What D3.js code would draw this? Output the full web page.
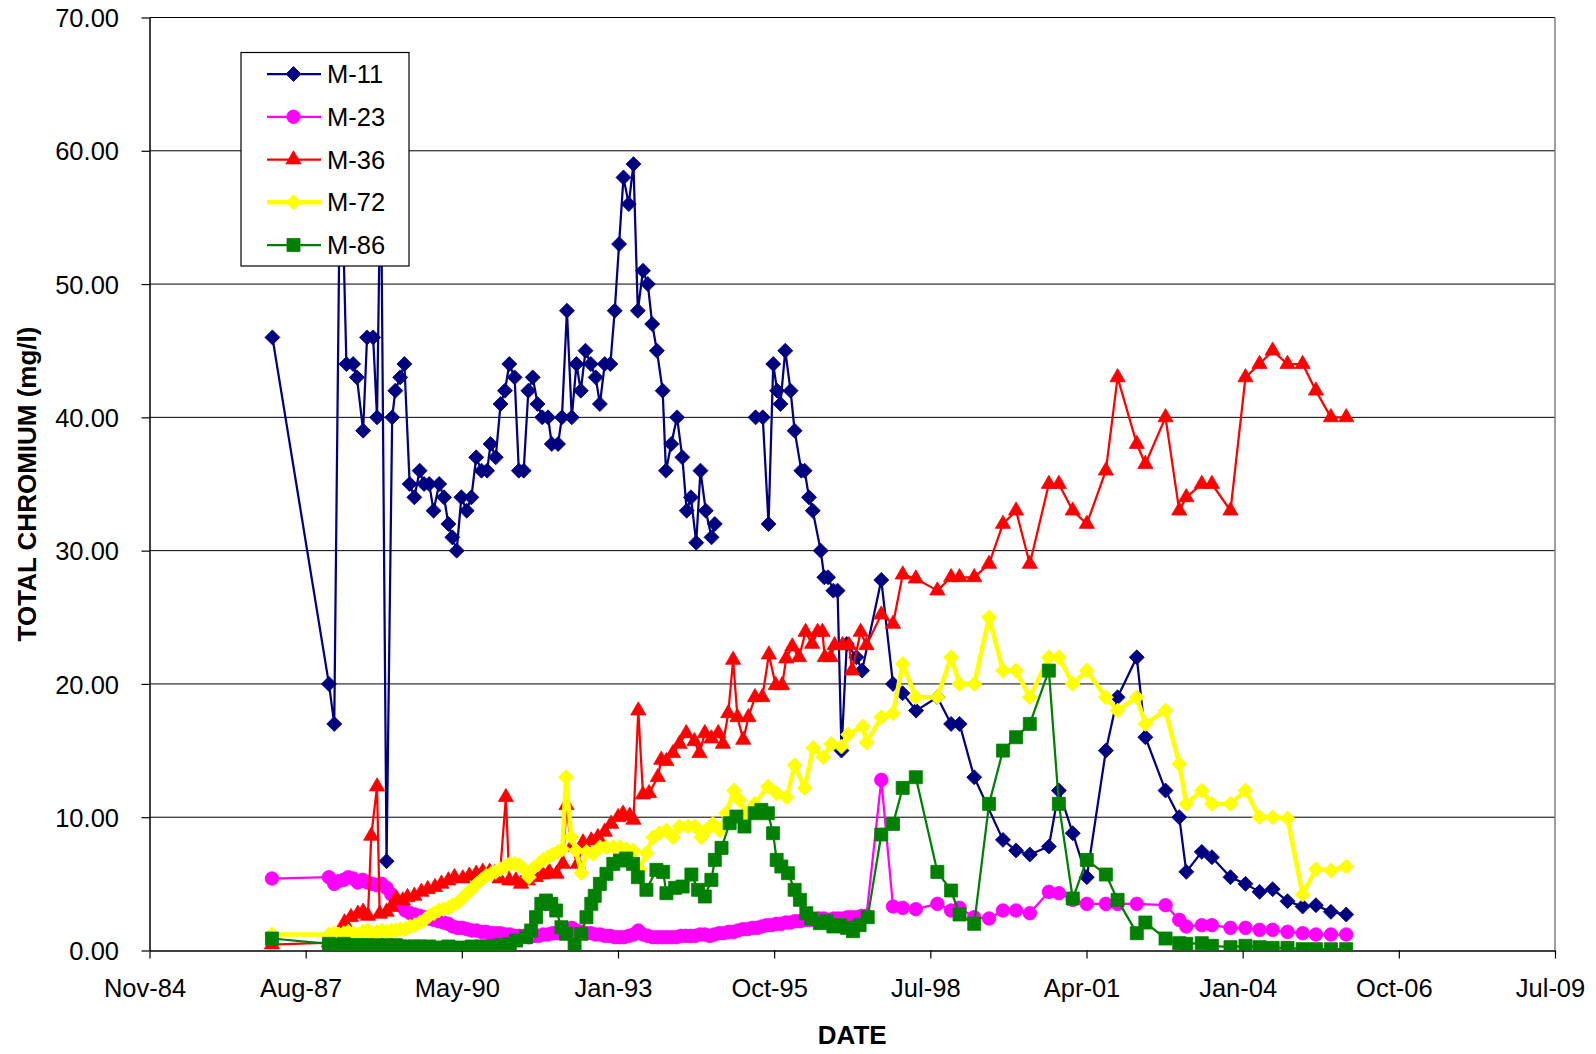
<!DOCTYPE html>
<html>
<head>
<meta charset="utf-8">
<script src="https://cdn.jsdelivr.net/npm/d3@7"></script>
<style>
  body { margin: 0; background: #fff; }
  text { font-family: "Liberation Sans", Arial, sans-serif; fill: #000; }
</style>
</head>
<body>
<div class="chart"></div>
<script>
// ---- data (date, total chromium mg/l) ----
var m11Data = [
  ["1987-01-10",46],["1988-01-07",20],["1988-02-10",17],["1988-03-21",62],["1988-04-28",44],
  ["1988-06-10",44],["1988-07-04",43],["1988-08-13",39],["1988-09-07",46],["1988-10-16",46],
  ["1988-11-10",40],["1988-12-04",60],["1989-01-10",6.7],["1989-02-15",40],["1989-03-07",42],
  ["1989-04-07",43],["1989-05-04",44],["1989-06-07",35],["1989-07-07",34],["1989-08-10",36],
  ["1989-09-07",35],["1989-10-10",35],["1989-11-07",33],["1989-12-13",35],["1990-01-13",34],
  ["1990-02-10",32],["1990-03-07",31],["1990-04-04",30],["1990-05-04",34],["1990-06-07",33],
  ["1990-07-07",34],["1990-08-07",37],["1990-09-10",36],["1990-10-16",36],["1990-11-07",38],
  ["1990-12-10",37],["1991-01-10",41],["1991-02-07",42],["1991-03-07",44],["1991-04-10",43],
  ["1991-05-07",36],["1991-06-07",36],["1991-07-07",42],["1991-08-04",43],["1991-09-04",41],
  ["1991-10-04",40],["1991-11-10",40],["1991-12-04",38],["1992-01-13",38],["1992-02-07",40],
  ["1992-03-10",48],["1992-04-10",40],["1992-05-10",44],["1992-06-07",42],["1992-07-07",45],
  ["1992-08-10",44],["1992-09-10",43],["1992-10-07",41],["1992-11-07",44],["1992-12-13",44],
  ["1993-01-10",48],["1993-02-07",53],["1993-03-07",58],["1993-04-10",56],["1993-05-10",59],
  ["1993-06-07",48],["1993-07-10",51],["1993-08-10",50],["1993-09-07",47],["1993-10-07",45],
  ["1993-11-13",42],["1993-12-04",36],["1994-01-07",38],["1994-02-13",40],["1994-03-19",37],
  ["1994-04-16",33],["1994-05-13",34],["1994-06-16",30.6],["1994-07-13",36],["1994-08-16",33],
  ["1994-09-22",31],["1994-10-13",32],["1995-02-01",null],["1995-07-01",40],["1995-08-16",40],
  ["1995-09-22",32],["1995-10-22",44],["1995-11-16",42],["1995-12-07",41],["1996-01-07",45],
  ["1996-02-10",42],["1996-03-07",39],["1996-04-19",36],["1996-05-10",36],["1996-06-07",34],
  ["1996-07-01",33],["1996-08-21",30],["1996-09-13",28],["1996-10-07",28],["1996-11-10",27],
  ["1996-12-07",27],["1997-01-01",15],["1997-02-04",23],["1997-04-07",22],["1997-05-13",21],
  ["1997-09-13",27.8],["1997-11-27",20],["1998-01-27",19.3],["1998-04-24",18],["1998-09-07",19],
  ["1998-12-04",17],["1999-01-27",17],["1999-05-01",13],["1999-11-01",8.3],["2000-01-24",7.5],
  ["2000-04-21",7.2],["2000-08-21",7.8],["2000-10-24",12],["2001-01-21",8.8],["2001-04-21",5.5],
  ["2001-08-21",15],["2001-11-04",19],["2002-03-07",22],["2002-05-01",16],["2002-09-07",12],
  ["2002-12-04",10],["2003-01-18",5.9],["2003-04-27",7.4],["2003-07-01",7.0],["2003-10-28",5.5],
  ["2004-02-01",5.0],["2004-05-01",4.4],["2004-07-24",4.6],["2004-10-27",3.7],["2005-02-01",3.3],
  ["2005-04-27",3.4],["2005-08-01",2.9],["2005-11-07",2.7]
];

var m23Data = [
  ["1987-01-07",5.4],["1988-01-07",5.5],["1988-02-10",5.0],["1988-03-10",5.2],["1988-04-10",5.3],
  ["1988-05-10",5.5],["1988-06-10",5.4],["1988-07-10",5.1],["1988-08-10",5.3],["1988-09-10",5.1],
  ["1988-10-10",5.0],["1988-11-10",4.9],["1988-12-10",5.0],["1989-01-10",4.7],["1989-02-10",4.2],
  ["1989-03-10",3.8],["1989-04-10",3.4],["1989-05-10",3.0],["1989-06-10",2.8],["1989-07-10",2.7],
  ["1989-08-10",2.6],["1989-09-10",2.5],["1989-10-10",2.4],["1989-11-10",2.3],["1989-12-10",2.2],
  ["1990-01-10",2.1],["1990-02-10",2.0],["1990-03-10",1.8],["1990-04-10",1.7],["1990-05-10",1.7],
  ["1990-06-10",1.6],["1990-07-10",1.5],["1990-08-10",1.5],["1990-09-10",1.4],["1990-10-10",1.4],
  ["1990-11-10",1.3],["1990-12-10",1.3],["1991-01-10",1.3],["1991-02-10",1.2],["1991-03-10",1.2],
  ["1991-04-10",1.1],["1991-05-10",1.1],["1991-06-10",1.1],["1991-07-10",1.0],["1991-08-10",1.1],
  ["1991-09-10",1.1],["1991-10-10",1.2],["1991-11-10",1.2],["1991-12-10",1.3],["1992-01-10",1.3],
  ["1992-02-10",1.4],["1992-03-10",1.5],["1992-04-10",1.7],["1992-05-10",1.5],["1992-06-10",1.4],
  ["1992-07-10",1.3],["1992-08-10",1.3],["1992-09-10",1.2],["1992-10-10",1.2],["1992-11-10",1.1],
  ["1992-12-10",1.1],["1993-01-10",1.0],["1993-02-10",1.0],["1993-03-10",1.0],["1993-04-10",1.1],
  ["1993-05-10",1.2],["1993-06-10",1.5],["1993-07-10",1.2],["1993-08-10",1.1],["1993-09-10",1.0],
  ["1993-10-10",1.0],["1993-11-10",1.0],["1993-12-10",1.0],["1994-01-10",1.0],["1994-02-10",1.0],
  ["1994-03-10",1.1],["1994-04-10",1.1],["1994-05-10",1.1],["1994-06-10",1.1],["1994-07-10",1.2],
  ["1994-08-10",1.2],["1994-09-10",1.1],["1994-10-10",1.2],["1994-11-10",1.3],["1994-12-10",1.3],
  ["1995-01-10",1.4],["1995-02-10",1.4],["1995-03-10",1.5],["1995-04-10",1.6],["1995-05-10",1.6],
  ["1995-06-10",1.7],["1995-07-10",1.7],["1995-08-10",1.8],["1995-09-10",1.9],["1995-10-10",1.9],
  ["1995-11-10",2.0],["1995-12-10",2.0],["1996-01-10",2.1],["1996-02-10",2.1],["1996-03-10",2.2],
  ["1996-04-10",2.2],["1996-05-10",2.3],["1996-06-10",2.3],["1996-07-10",2.3],["1996-08-10",2.4],
  ["1996-09-10",2.4],["1996-10-10",2.3],["1996-11-10",2.4],["1996-12-10",2.4],["1997-01-10",2.4],
  ["1997-02-10",2.5],["1997-03-10",2.5],["1997-04-10",2.5],["1997-05-10",2.6],["1997-06-10",2.6],
  ["1997-09-13",12.8],["1997-11-27",3.3],["1998-01-28",3.2],["1998-04-22",3.1],["1998-09-07",3.5],
  ["1998-12-04",3.0],["1999-01-27",3.2],["1999-05-01",2.5],["1999-08-04",2.4],["1999-11-01",3.0],
  ["2000-01-24",3.0],["2000-04-21",2.8],["2000-08-21",4.4],["2000-10-24",4.3],["2001-01-21",3.8],
  ["2001-04-21",3.5],["2001-08-21",3.5],["2001-11-04",3.5],["2002-03-07",3.5],["2002-09-07",3.4],
  ["2002-12-04",2.3],["2003-01-18",1.8],["2003-04-27",1.9],["2003-07-01",1.9],["2003-10-28",1.7],
  ["2004-02-01",1.7],["2004-05-01",1.55],["2004-07-24",1.55],["2004-10-27",1.4],["2005-02-01",1.3],
  ["2005-04-27",1.2],["2005-08-01",1.2],["2005-11-07",1.2]
];

var m36Data = [
  ["1987-01-07",0.45],["1988-01-07",0.6],["1988-04-16",2.1],["1988-05-27",2.5],["1988-07-10",2.75],
  ["1988-08-13",2.9],["1988-09-13",2.6],["1988-10-04",8.6],["1988-11-10",12.3],["1988-11-27",2.75],
  ["1989-01-10",2.9],["1989-02-10",3.25],["1989-03-13",3.9],["1989-04-24",3.75],["1989-05-24",4.0],
  ["1989-07-07",4.1],["1989-08-21",4.4],["1989-10-01",4.6],["1989-11-16",4.75],["1989-12-27",5.0],
  ["1990-02-10",5.25],["1990-03-21",5.5],["1990-05-13",5.4],["1990-06-24",5.6],["1990-08-07",5.75],
  ["1990-09-18",5.9],["1990-11-01",5.9],["1990-12-04",5.8],["1991-01-04",5.4],["1991-02-13",11.5],
  ["1991-03-07",5.25],["1991-04-18",5.25],["1991-05-21",5.0],["1991-07-04",5.25],["1991-08-24",5.5],
  ["1991-10-07",5.7],["1991-11-18",5.9],["1992-01-04",5.75],["1992-02-13",6.5],["1992-03-07",10.9],
  ["1992-04-07",7.75],["1992-05-18",6.5],["1992-06-21",8.1],["1992-08-13",8.25],["1992-09-24",8.5],
  ["1992-11-07",8.9],["1992-12-18",9.5],["1993-02-01",10],["1993-03-04",10.25],["1993-04-16",10.1],
  ["1993-05-10",9.8],["1993-06-10",18],["1993-07-10",11.7],["1993-08-18",11.8],["1993-10-13",13.0],
  ["1993-11-04",14.3],["1993-12-07",14.2],["1994-01-18",14.8],["1994-03-01",15.5],["1994-04-13",16.3],
  ["1994-06-04",15.7],["1994-07-07",14.8],["1994-08-10",16.3],["1994-09-21",15.9],["1994-11-04",16.3],
  ["1994-12-04",15.5],["1995-01-07",17.8],["1995-02-07",21.8],["1995-03-07",17.5],["1995-04-13",15.8],
  ["1995-05-16",17.5],["1995-06-27",19.0],["1995-08-13",19.0],["1995-09-24",22.2],["1995-11-07",19.9],
  ["1995-12-18",19.9],["1996-01-13",21.9],["1996-02-21",22.8],["1996-04-04",22.0],["1996-05-16",23.9],
  ["1996-06-27",23.0],["1996-08-01",23.9],["1996-09-01",23.9],["1996-09-16",22.0],["1996-10-24",22.0],
  ["1996-11-18",22.9],["1997-01-07",22.9],["1997-02-18",22.9],["1997-03-10",21.0],["1997-05-04",23.9],
  ["1997-06-10",22.9],["1997-09-13",25.2],["1997-11-27",24.5],["1998-01-28",28.2],["1998-04-22",27.9],
  ["1998-09-07",27],["1998-12-04",28],["1999-01-27",28],["1999-05-01",28],["1999-08-04",29],
  ["1999-11-01",32],["2000-01-24",33],["2000-04-21",29],["2000-08-21",35],["2000-10-24",35],
  ["2001-01-21",33],["2001-04-21",32],["2001-08-21",36],["2001-11-04",43],["2002-03-07",38],
  ["2002-05-01",36.5],["2002-09-07",40],["2002-12-04",33],["2003-01-18",34],["2003-04-27",35],
  ["2003-07-01",35],["2003-10-28",33],["2004-02-01",43],["2004-05-01",44],["2004-07-24",45],
  ["2004-10-27",44],["2005-02-01",44],["2005-04-27",42],["2005-08-01",40],["2005-11-07",40]
];

var m72Data = [
  ["1987-01-07",1.2],["1988-01-07",1.2],["1988-02-10",1.3],["1988-03-10",1.2],["1988-04-10",1.3],
  ["1988-05-10",1.4],["1988-06-10",1.3],["1988-07-10",1.2],["1988-08-10",1.4],["1988-09-10",1.5],
  ["1988-10-10",1.3],["1988-11-10",1.4],["1988-12-10",1.5],["1989-01-10",1.4],["1989-02-10",1.5],
  ["1989-03-10",1.5],["1989-04-10",1.6],["1989-05-10",1.6],["1989-06-10",1.8],["1989-07-10",1.9],
  ["1989-08-10",2.1],["1989-09-10",2.3],["1989-10-10",2.6],["1989-11-10",2.8],["1989-12-10",3.0],
  ["1990-01-10",3.1],["1990-02-10",3.2],["1990-03-10",3.4],["1990-04-10",3.6],["1990-05-10",3.9],
  ["1990-06-10",4.3],["1990-07-10",4.6],["1990-08-10",5.0],["1990-09-10",5.3],["1990-10-10",5.6],
  ["1990-11-10",5.75],["1990-12-10",5.9],["1991-01-10",6.1],["1991-02-10",6.3],["1991-03-10",6.5],
  ["1991-04-10",6.5],["1991-05-10",6.4],["1991-06-10",6.1],["1991-07-10",5.5],["1991-08-10",6.2],
  ["1991-09-10",6.5],["1991-10-10",6.8],["1991-11-10",7.0],["1991-12-10",7.2],["1992-01-10",7.4],
  ["1992-02-10",7.6],["1992-03-04",13],["1992-04-07",8.5],["1992-05-07",7.5],["1992-06-10",5.8],
  ["1992-07-13",7.4],["1992-08-25",7.25],["1992-10-07",7.75],["1992-11-18",7.75],["1993-01-01",7.75],
  ["1993-02-13",7.75],["1993-03-25",7.6],["1993-05-07",7.5],["1993-06-18",6.1],["1993-08-01",7.3],
  ["1993-09-13",8.5],["1993-10-24",8.8],["1993-12-07",9.0],["1994-01-18",8.5],["1994-03-01",9.3],
  ["1994-04-24",9.3],["1994-06-07",9.3],["1994-07-18",8.5],["1994-08-18",9.0],["1994-10-01",9.5],
  ["1994-11-13",9.0],["1994-12-24",10.3],["1995-02-13",12.0],["1995-03-18",11.3],["1995-05-01",10.3],
  ["1995-06-24",11.0],["1995-09-18",12.3],["1995-11-13",11.8],["1996-01-16",11.5],["1996-03-07",13.9],
  ["1996-05-10",12.2],["1996-07-04",15.2],["1996-09-07",14.5],["1996-10-27",15.5],["1997-01-01",15.3],
  ["1997-02-13",16.2],["1997-05-18",16.8],["1997-06-10",15.6],["1997-09-13",17.5],["1997-11-27",17.8],
  ["1998-01-28",21.5],["1998-04-22",19.0],["1998-09-07",19.0],["1998-12-04",22.0],["1999-01-27",20.0],
  ["1999-05-01",20.0],["1999-08-04",25.0],["1999-11-01",21.0],["2000-01-24",21.0],["2000-04-21",19.0],
  ["2000-08-21",22.0],["2000-10-24",22.0],["2001-01-21",20.0],["2001-04-21",21.0],["2001-08-21",19.0],
  ["2001-11-04",18.0],["2002-03-07",19.0],["2002-05-01",17.0],["2002-09-07",18.0],["2002-12-04",14.0],
  ["2003-01-18",11.0],["2003-04-27",12.0],["2003-07-01",11.0],["2003-10-28",11.0],["2004-02-01",12.0],
  ["2004-05-01",10.0],["2004-07-24",10.0],["2004-10-27",9.9],["2005-02-01",4.2],["2005-04-27",6.1],
  ["2005-08-01",6.0],["2005-11-07",6.3]
];

var m86Data = [
  ["1987-01-07",0.9],["1988-01-07",0.5],["1988-02-10",0.4],["1988-03-10",0.4],["1988-04-10",0.5],
  ["1988-05-10",0.4],["1988-06-10",0.4],["1988-07-10",0.3],["1988-08-10",0.4],["1988-09-10",0.4],
  ["1988-10-10",0.3],["1988-11-10",0.4],["1988-12-10",0.3],["1989-01-10",0.4],["1989-02-10",0.3],
  ["1989-03-10",0.4],["1989-04-10",0.3],["1989-05-10",0.3],["1989-06-10",0.2],["1989-07-10",0.3],
  ["1989-08-10",0.3],["1989-09-10",0.2],["1989-10-10",0.3],["1989-11-10",0.2],["1989-12-10",0.2],
  ["1990-01-10",0.2],["1990-02-10",0.3],["1990-03-10",0.2],["1990-04-10",0.2],["1990-05-10",0.2],
  ["1990-06-10",0.2],["1990-07-10",0.3],["1990-08-10",0.2],["1990-09-10",0.3],["1990-10-10",0.3],
  ["1990-11-10",0.3],["1990-12-10",0.3],["1991-01-10",0.4],["1991-02-10",0.4],["1991-03-10",0.5],
  ["1991-04-19",0.75],["1991-06-22",1.0],["1991-07-25",1.5],["1991-08-25",2.5],["1991-09-28",3.5],
  ["1991-10-28",3.75],["1991-12-01",3.5],["1992-01-01",3.0],["1992-02-04",1.75],["1992-03-04",1.25],
  ["1992-04-28",0.5],["1992-06-10",1.25],["1992-07-13",2.5],["1992-08-13",3.5],["1992-09-04",4.1],
  ["1992-10-07",5.0],["1992-11-18",5.75],["1993-01-01",6.5],["1993-02-13",6.75],["1993-03-25",6.9],
  ["1993-05-07",6.5],["1993-06-07",5.5],["1993-08-01",4.55],["1993-10-04",6.05],["1993-11-16",5.9],
  ["1993-12-07",4.3],["1994-02-01",4.7],["1994-03-21",4.8],["1994-05-16",5.7],["1994-06-28",4.55],
  ["1994-08-10",4.05],["1994-09-21",5.3],["1994-10-13",6.8],["1994-11-25",7.7],["1995-01-16",9.55],
  ["1995-02-28",10.05],["1995-04-21",9.3],["1995-06-25",10.3],["1995-08-07",10.55],["1995-09-18",10.3],
  ["1995-10-21",8.8],["1995-11-13",6.8],["1995-12-13",6.3],["1996-01-25",5.8],["1996-03-07",4.55],
  ["1996-04-10",3.8],["1996-05-21",2.8],["1996-06-21",2.4],["1996-08-16",2.05],["1996-09-27",2.2],
  ["1996-11-10",1.8],["1996-12-21",1.9],["1997-02-04",1.7],["1997-03-16",1.45],["1997-04-27",1.9],
  ["1997-06-18",2.5],["1997-09-13",8.7],["1997-11-27",9.5],["1998-01-28",12.2],["1998-04-22",13.0],
  ["1998-09-07",5.9],["1998-12-04",4.5],["1999-01-27",2.7],["1999-05-01",2.0],["1999-08-04",11.0],
  ["1999-11-01",15.0],["2000-01-24",16.0],["2000-04-21",17.0],["2000-08-21",21.0],["2000-10-24",11.0],
  ["2001-01-21",3.9],["2001-04-21",6.8],["2001-08-21",5.7],["2001-11-04",3.8],["2002-03-07",1.3],
  ["2002-05-01",2.1],["2002-09-07",0.9],["2002-12-04",0.55],["2003-01-18",0.5],["2003-04-27",0.55],
  ["2003-07-01",0.35],["2003-10-28",0.25],["2004-02-01",0.35],["2004-05-01",0.25],["2004-07-24",0.2],
  ["2004-10-27",0.2],["2005-02-01",0.1],["2005-04-27",0.1],["2005-08-01",0.1],["2005-11-07",0.1]
];

var seriesNames = ["M-11", "M-23", "M-36", "M-72", "M-86"];
var yTicks = [0, 10, 20, 30, 40, 50, 60, 70];
// x axis runs on Excel day serials, one tick every 1000 days
var xTickSerials = [31000, 32000, 33000, 34000, 35000, 36000, 37000, 38000, 39000, 40000];
var xTickLabels = ["Nov-84", "Aug-87", "May-90", "Jan-93", "Oct-95", "Jul-98", "Apr-01", "Jan-04", "Oct-06", "Jul-09"];

// ---- layout ----
var svgWidth = 1596;
var svgHeight = 1054;
var margin = { top: 17.5, right: 41, bottom: 103.5, left: 149.5 };
var width = svgWidth - margin.left - margin.right;
var height = svgHeight - margin.top - margin.bottom;

var svg = d3.select(".chart")
  .append("svg")
  .attr("width", svgWidth)
  .attr("height", svgHeight);

var chart = svg.append("g")
  .attr("transform", `translate(${margin.left}, ${margin.top})`);

var parseDate = d3.timeParse("%Y-%m-%d");
function excelDate(serial) {
  return d3.timeDay.offset(new Date(1899, 11, 30), serial);
}

var xScale = d3.scaleTime()
  .domain([excelDate(xTickSerials[0]), excelDate(xTickSerials[xTickSerials.length - 1])])
  .range([0, width]);
var yScale = d3.scaleLinear().domain([0, 70]).range([height, 0]);

// horizontal gridlines
chart.selectAll(".grid")
  .data(yTicks.slice(1))
  .enter().append("line")
  .attr("class", "grid")
  .attr("x1", 0).attr("x2", width)
  .attr("y1", function(d) { return yScale(d); })
  .attr("y2", function(d) { return yScale(d); })
  .attr("stroke", "#000")
  .attr("stroke-width", 1);

// right border of plot area
chart.append("line")
  .attr("x1", width).attr("x2", width)
  .attr("y1", 0).attr("y2", height)
  .attr("stroke", "#808080")
  .attr("stroke-width", 1.5);

// axes
var leftAxis = d3.axisLeft(yScale)
  .tickValues(yTicks)
  .tickFormat(d3.format(".2f"))
  .tickSizeInner(8).tickSizeOuter(0)
  .tickPadding(22.5);

var bottomAxis = d3.axisBottom(xScale)
  .tickValues(xTickSerials.map(excelDate))
  .tickFormat(function(d, i) { return xTickLabels[i]; })
  .tickSizeInner(8).tickSizeOuter(0)
  .tickPadding(20);

var yAxisG = chart.append("g").call(leftAxis);
var xAxisG = chart.append("g")
  .attr("transform", `translate(0, ${height})`)
  .call(bottomAxis);

[yAxisG, xAxisG].forEach(function(g) {
  g.select(".domain").attr("stroke", "#000").attr("stroke-width", 1.5);
  g.selectAll(".tick line").attr("stroke", "#000").attr("stroke-width", 1.2);
  g.selectAll(".tick text")
    .attr("font-size", "25.5px")
    .attr("font-family", "Liberation Sans, Arial, sans-serif");
});
xAxisG.selectAll(".tick text").attr("dx", -5);
yAxisG.selectAll(".tick text").attr("dy", "0.36em");

// axis titles
svg.append("text")
  .attr("transform", "translate(35.5, 484) rotate(-90)")
  .attr("text-anchor", "middle")
  .attr("font-size", "26px")
  .attr("font-weight", "bold")
  .text("TOTAL CHROMIUM (mg/l)");

svg.append("text")
  .attr("x", margin.left + width / 2)
  .attr("y", 1044)
  .attr("text-anchor", "middle")
  .attr("font-size", "26px")
  .attr("font-weight", "bold")
  .text("DATE");

// ---- series ----
var markers = {
  diamond: d3.symbol(d3.symbolSquare, 112)(),
  circle: d3.symbol(d3.symbolCircle, 145)(),
  triangle: d3.symbol(d3.symbolTriangle, 100)(),
  square: d3.symbol(d3.symbolSquare, 170)()
};

var series = [
  { name: seriesNames[0], data: m11Data, color: "#000080", lineWidth: 2.25, shape: "diamond", rotate: 45 },
  { name: seriesNames[1], data: m23Data, color: "#FF00FF", lineWidth: 2.25, shape: "circle", rotate: 0 },
  { name: seriesNames[2], data: m36Data, color: "#FF0000", lineWidth: 2.25, shape: "triangle", rotate: 0 },
  { name: seriesNames[3], data: m72Data, color: "#FFFF00", lineWidth: 4.5, shape: "diamond", rotate: 45 },
  { name: seriesNames[4], data: m86Data, color: "#008000", lineWidth: 2.25, shape: "square", rotate: 0 }
];

svg.append("defs").append("clipPath")
  .attr("id", "plotClip")
  .append("rect")
  .attr("width", width).attr("height", height);

var plot = chart.append("g").attr("clip-path", "url(#plotClip)");

var line = d3.line()
  .defined(function(d) { return d[1] !== null; })
  .x(function(d) { return xScale(parseDate(d[0])); })
  .y(function(d) { return yScale(d[1]); });

series.forEach(function(s) {
  var g = plot.append("g").attr("class", "series");

  g.append("path")
    .datum(s.data)
    .attr("fill", "none")
    .attr("stroke", s.color)
    .attr("stroke-width", s.lineWidth)
    .attr("stroke-linejoin", "round")
    .attr("d", line);

  g.selectAll(".marker")
    .data(s.data.filter(function(d) { return d[1] !== null; }))
    .enter().append("path")
    .attr("class", "marker")
    .attr("d", markers[s.shape])
    .attr("transform", function(d) {
      return `translate(${xScale(parseDate(d[0]))}, ${yScale(d[1])}) rotate(${s.rotate})`;
    })
    .attr("fill", s.color)
    .attr("stroke", s.color)
    .attr("stroke-width", 0.8);
});

// ---- legend ----
var legend = svg.append("g").attr("transform", "translate(241, 52.5)");

legend.append("rect")
  .attr("width", 168).attr("height", 213.5)
  .attr("fill", "#fff")
  .attr("stroke", "#000")
  .attr("stroke-width", 1.2);

var legendRow = d3.scaleLinear().domain([0, 4]).range([21.5, 192.5]);

series.forEach(function(s, i) {
  var row = legend.append("g").attr("transform", `translate(0, ${legendRow(i)})`);
  row.append("line")
    .attr("x1", 26).attr("x2", 80)
    .attr("stroke", s.color)
    .attr("stroke-width", s.lineWidth);
  row.append("path")
    .attr("d", markers[s.shape])
    .attr("transform", `translate(52.5, 0) rotate(${s.rotate})`)
    .attr("fill", s.color)
    .attr("stroke", s.color)
    .attr("stroke-width", 0.8);
  row.append("text")
    .attr("x", 86)
    .attr("dy", "0.36em")
    .attr("font-size", "25.5px")
    .text(s.name);
});
</script>
</body>
</html>
